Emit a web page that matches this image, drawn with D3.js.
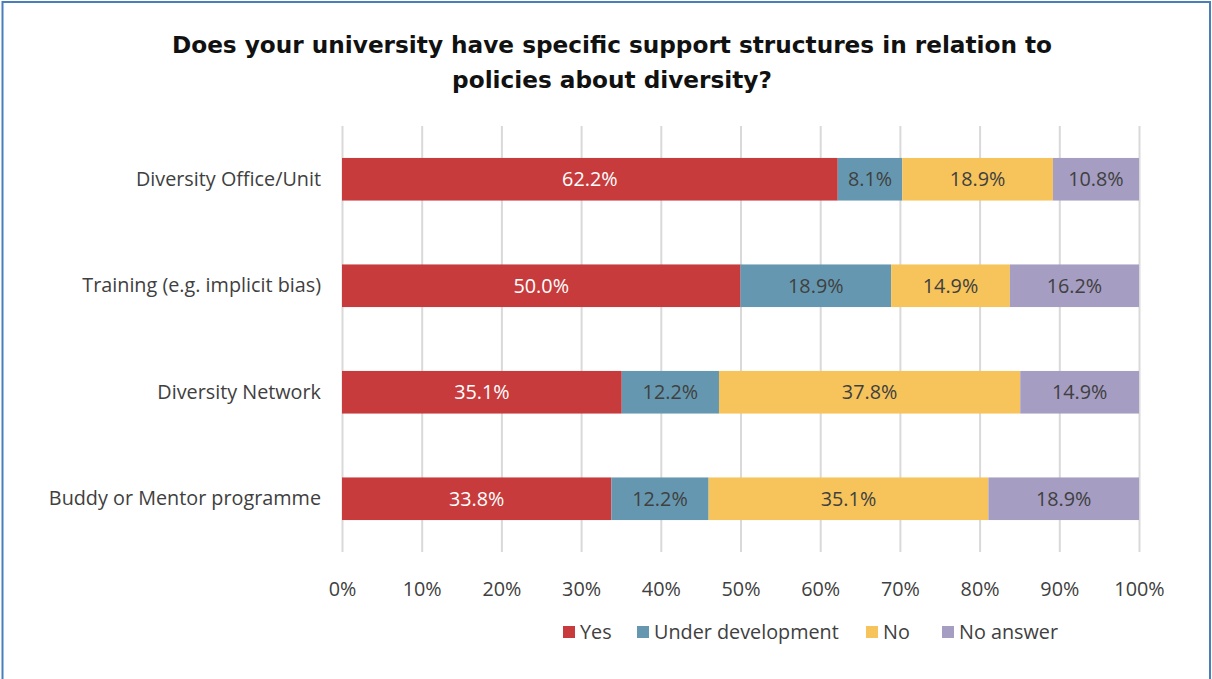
<!DOCTYPE html>
<html>
<head>
<meta charset="utf-8">
<script src="https://cdn.jsdelivr.net/npm/d3@7"></script>
<style>
  html, body { margin: 0; padding: 0; background: #fff; }
  svg { display: block; }
</style>
</head>
<body>
<svg id="chart" width="1212" height="679"></svg>
<script>
// Survey categories (top to bottom) and the share per answer, in percent
const categories = [
  "Diversity Office/Unit",
  "Training (e.g. implicit bias)",
  "Diversity Network",
  "Buddy or Mentor programme"
];
const seriesNames = ["Yes", "Under development", "No", "No answer"];
const yesValues = [62.2, 50.0, 35.1, 33.8];
const underDevValues = [8.1, 18.9, 12.2, 12.2];
const noValues = [18.9, 14.9, 37.8, 35.1];
const noAnswerValues = [10.8, 16.2, 14.9, 18.9];
const tickValues = [0, 10, 20, 30, 40, 50, 60, 70, 80, 90, 100];
const titleLines = [
  "Does your university have specific support structures in relation to",
  "policies about diversity?"
];

const colors = ["#C73B3C", "#6598B0", "#F7C45B", "#A59DC2"];
const labelColors = ["#ffffff", "#404040", "#404040", "#404040"];
const bodyFont = "'Open Sans', Lato, sans-serif";
const bodySize = 19.8;

const rows = categories.map((c, i) => ({
  category: c,
  "Yes": yesValues[i],
  "Under development": underDevValues[i],
  "No": noValues[i],
  "No answer": noAnswerValues[i]
}));

const stacked = d3.stack().keys(seriesNames)(rows);

const svg = d3.select("#chart");
const W = 1212, H = 679;
const margin = { left: 342, right: 73, top: 126, bottom: 127 };

// outer frame
svg.append("path")
  .attr("d", `M2.5,${H + 2} L2.5,2 L1210,2 L1210,${H + 2}`)
  .attr("fill", "none")
  .attr("stroke", "#4A7EBB")
  .attr("stroke-width", 2);

const x = d3.scaleLinear().domain([0, 100]).range([margin.left, W - margin.right]);
const y = d3.scaleBand().domain(categories)
  .range([margin.top, H - margin.bottom])
  .paddingInner(0.6).paddingOuter(0.3);

// title
const title = svg.append("text")
  .attr("text-anchor", "middle")
  .attr("font-family", "'DejaVu Sans', sans-serif")
  .attr("font-weight", "bold")
  .attr("font-size", 23.2)
  .attr("fill", "#111");
title.selectAll("tspan").data(titleLines).join("tspan")
  .attr("x", 612)
  .attr("y", (d, i) => 53 + i * 35)
  .text(d => d);

// vertical gridlines and percentage ticks
const xAxis = d3.axisBottom(x)
  .tickValues(tickValues)
  .tickSize(-(H - margin.bottom - margin.top))
  .tickFormat(d => d + "%");
const gx = svg.append("g")
  .attr("transform", `translate(0,${H - margin.bottom})`)
  .call(xAxis);
gx.select(".domain").remove();
gx.selectAll(".tick line").attr("stroke", "#D9D9D9").attr("stroke-width", 2);
gx.selectAll(".tick text")
  .attr("y", 30)
  .attr("font-family", bodyFont)
  .attr("font-size", bodySize)
  .attr("fill", "#404040");

// category labels
const yAxis = d3.axisLeft(y).tickSize(0).tickPadding(21);
const gy = svg.append("g").attr("transform", `translate(${margin.left},0)`).call(yAxis);
gy.select(".domain").remove();
gy.selectAll(".tick text")
  .attr("font-family", bodyFont)
  .attr("font-size", bodySize)
  .attr("fill", "#404040");

// stacked bars
const layers = svg.append("g").selectAll("g").data(stacked).join("g")
  .attr("fill", (d, i) => colors[i]);
layers.selectAll("rect").data(d => d).join("rect")
  .attr("x", d => x(d[0]))
  .attr("width", d => x(d[1]) - x(d[0]))
  .attr("y", d => y(d.data.category))
  .attr("height", y.bandwidth());

// value labels centred in each segment
const labelLayers = svg.append("g").selectAll("g").data(stacked).join("g")
  .attr("fill", (d, i) => labelColors[i]);
labelLayers.selectAll("text").data(d => d.map(v => ({ v, key: d.key }))).join("text")
  .attr("x", d => (x(d.v[0]) + x(d.v[1])) / 2)
  .attr("y", d => y(d.v.data.category) + y.bandwidth() / 2)
  .attr("dy", "0.35em")
  .attr("text-anchor", "middle")
  .attr("font-family", bodyFont)
  .attr("font-size", bodySize)
  .text(d => d.v.data[d.key].toFixed(1) + "%");

// legend
const legendX = [563, 637, 866, 942];
const legend = svg.append("g").selectAll("g").data(seriesNames).join("g")
  .attr("transform", (d, i) => `translate(${legendX[i]},632)`);
legend.append("rect")
  .attr("x", 0).attr("y", -6).attr("width", 12).attr("height", 12)
  .attr("fill", (d, i) => colors[i]);
legend.append("text")
  .attr("x", 17).attr("dy", "0.35em")
  .attr("font-family", bodyFont)
  .attr("font-size", bodySize)
  .attr("fill", "#404040")
  .text(d => d);
</script>
</body>
</html>
